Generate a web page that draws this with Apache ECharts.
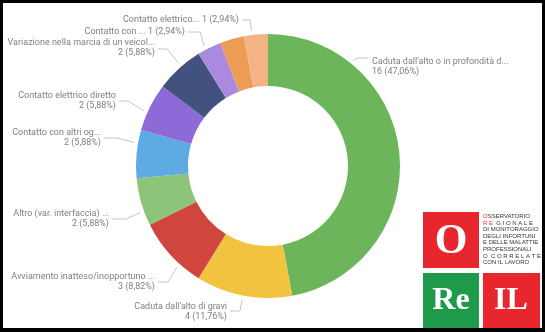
<!DOCTYPE html>
<html>
<head>
<meta charset="utf-8">
<script src="https://cdn.jsdelivr.net/npm/echarts@6/dist/echarts.min.js"></script>
<style>
  html, body { margin: 0; padding: 0; background: #fff; }
  #chart { width: 545px; height: 332px; }
</style>
</head>
<body>
<div id="chart"></div>
<script>
// Infortuni per modalità di accadimento
const categories = [
  "Caduta dall'alto o in profondità d...",
  "Caduta dall'alto di gravi",
  "Avviamento inatteso/inopportuno ...",
  "Altro (var. interfaccia) ...",
  "Contatto con altri og...",
  "Contatto elettrico diretto",
  "Variazione nella marcia di un veicol...",
  "Contatto con ...",
  "Contatto con organi...",
  "Contatto elettrico..."
];
const counts = [16, 4, 3, 2, 2, 2, 2, 1, 1, 1];
const colors = [
  '#6cb55a', '#f1c33f', '#d0453d', '#8cc57a', '#5eaae2',
  '#8e6ad8', '#43517f', '#a98ade', '#ee9b57', '#f3b384'
];
// slices whose label is single-line (name and value on one row)
const inlineLabel = [false, false, false, false, false, false, false, true, true, true];
const hiddenLabel = [false, false, false, false, false, false, false, false, true, false];

const total = counts.reduce((a, b) => a + b, 0);
const fmtPct = v => (v / total * 100).toFixed(2).replace('.', ',');

// geometry of the ring
const CX = 268, CY = 166, R_IN = 80, R_OUT = 132;

// label placement: leader tail angle (deg, clockwise from 12 o'clock),
// elbow and end of the leader, text side
const labelPlace = {
  0: { ang: 39,   elbow: [358, 58],  end: [368, 58],  side: 'left',  ty: 66.5 },
  1: { ang: -169, elbow: [240, 311], end: [230, 311], side: 'right', ty: 311.5 },
  2: { ang: -138, elbow: [168, 282], end: [158, 282], side: 'right', ty: 282 },
  3: { ang: -110, elbow: [126, 219], end: [112, 219], side: 'right', ty: 219 },
  4: { ang: -80,  elbow: [117, 138], end: [104, 138], side: 'right', ty: 137.5 },
  5: { ang: -66,  elbow: [128, 101], end: [119, 101], side: 'right', ty: 100.5 },
  6: { ang: -41,  elbow: [167, 49],  end: [158, 49],  side: 'right', ty: 48 },
  7: { ang: -28,  elbow: [200, 32],  end: [188, 32],  side: 'right', ty: 32 },
  9: { ang: -7,   elbow: [250, 20],  end: [242, 20],  side: 'right', ty: 20 }
};

const chart = echarts.init(document.getElementById('chart'));
chart.setOption({
  animation: false,
  color: colors,
  series: [{
    type: 'pie',
    center: [CX, CY],
    radius: [R_IN, R_OUT],
    startAngle: 90,
    clockwise: true,
    avoidLabelOverlap: false,
    label: {
      show: true,
      position: 'outside',
      color: '#808080',
      fontSize: 9,
      fontFamily: 'Roboto',
      lineHeight: 10,
      overflow: 'none',
      formatter: p => {
        const v = p.value + ' (' + fmtPct(p.value) + '%)';
        return inlineLabel[p.dataIndex] ? p.name + ' ' + v : p.name + '\n' + v;
      }
    },
    labelLine: {
      show: true,
      length: 8,
      length2: 8,
      lineStyle: { color: '#c4c4c4', width: 1 }
    },
    labelLayout: params => {
      const s = labelPlace[params.dataIndex];
      if (!s) return {};
      const a = s.ang * Math.PI / 180;
      const r = R_OUT + 4;
      const tail = [CX + r * Math.sin(a), CY - r * Math.cos(a)];
      const left = s.side === 'left';
      return {
        x: s.end[0] + (left ? 4 : -3),
        y: s.ty,
        align: left ? 'left' : 'right',
        verticalAlign: 'middle',
        labelLinePoints: [tail, s.elbow, s.end]
      };
    },
    data: categories.map((c, i) => ({
      name: c,
      value: counts[i],
      label: { show: !hiddenLabel[i] },
      labelLine: { show: !hiddenLabel[i] }
    }))
  }],
  graphic: [
    // ORéIL mark
    { type: 'rect', shape: { x: 423, y: 212, width: 56, height: 56 }, style: { fill: '#e8262e' } },
    { type: 'text', x: 451, y: 242, style: { text: 'O', fill: '#fff', font: 'bold 42px "Liberation Serif"', align: 'center', verticalAlign: 'middle' } },
    { type: 'rect', shape: { x: 423, y: 273, width: 56, height: 56 }, style: { fill: '#1f9a4b' } },
    { type: 'text', x: 451, y: 301, style: { text: 'Re', fill: '#fff', font: 'bold 32px "Liberation Serif"', align: 'center', verticalAlign: 'middle' } },
    { type: 'rect', shape: { x: 483, y: 273, width: 57, height: 56 }, style: { fill: '#e8262e' } },
    { type: 'text', x: 511, y: 301, style: { text: 'IL', fill: '#fff', font: 'bold 32px "Liberation Serif"', align: 'center', verticalAlign: 'middle' } },
    {
      type: 'text', x: 483, y: 213,
      style: {
        text: '{r|O}SSERVATORIO\n{r|R E}  G I O N A L E\nDI MONITORAGGIO\nDEGLI INFORTUNI\nE DELLE MALATTIE\nPROFESSIONALI\nO  C O R R E L A T E\nCON IL {r|L}AVORO',
        fill: '#333', font: '6px "Liberation Sans"', lineHeight: 6.6,
        rich: { r: { fill: '#e8262e', font: '6px "Liberation Sans"' } }
      }
    },
    // frame
    { type: 'rect', shape: { x: 0, y: 0, width: 545, height: 332 }, style: { fill: 'none', stroke: '#000', lineWidth: 6 } },
    { type: 'rect', shape: { x: 0, y: 328, width: 545, height: 4 }, style: { fill: '#000' } }
  ]
});
</script>
</body>
</html>
